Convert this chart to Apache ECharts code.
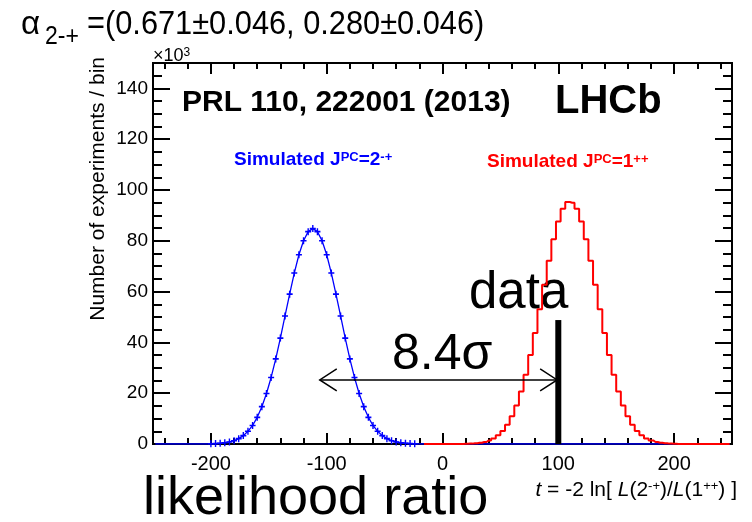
<!DOCTYPE html>
<html><head><meta charset="utf-8">
<script src="https://cdn.jsdelivr.net/npm/echarts@6/dist/echarts.min.js"></script>
<style>html,body{margin:0;padding:0;background:#fff}#c{width:752px;height:522px}</style>
</head><body><div id="c"></div>
<script>
// ---- data ----
const binWidth = 4;
const histMin = -250;
const histMax = 250;
// Simulated J^PC = 2^-+ (blue points), bin centres from blueStart in steps of binWidth
const blueStart = -200;
const blueCounts = [0.08,0.15,0.3,0.5,0.8,1.3,2.1,3.3,5.0,7.3,10.5,14.7,19.9,26.2,33.5,41.7,50.4,59.0,67.3,74.5,80.0,83.6,84.8,83.6,80.0,74.5,67.3,59.0,50.4,41.7,33.5,26.2,19.9,14.7,10.5,7.3,5.0,3.3,2.1,1.3,0.8,0.5,0.3,0.15,0.08];
// Simulated J^PC = 1^++ (red histogram)
const redStart = 20;
const redCounts = [0.08,0.15,0.3,0.5,0.8,1.4,2.2,3.4,5.1,7.6,10.9,15.2,20.7,27.3,35.0,43.7,53.1,62.7,72.1,80.6,87.6,92.6,95.3,95.0,92.6,87.6,80.6,72.1,62.7,53.1,43.7,35.0,27.3,20.7,15.2,10.9,7.6,5.1,3.4,2.2,1.4,0.8,0.5,0.3,0.15,0.08];
const redDrawFrom = -16;
// observed data
const dataValue = 100;
const dataBarHeight = 48.8;
// separation arrow
const arrowFrom = -106;
const arrowTo = 99;
const arrowLevel = 25.2;
// axes
const xMajorTicks = [-200,-100,0,100,200];
const xMinorStep = 20;
const yMin = 0, yMax = 150;
const yMajorTicks = [0,20,40,60,80,100,120,140];
const yMinorStep = 5;

// ---- build ----
const FONT = "'Liberation Sans', Arial, Helvetica, sans-serif";
function range(a,b,s){const r=[];for(let v=a;v<=b+1e-9;v+=s)r.push(Math.round(v*1000)/1000);return r;}
const xMinorTicks = range(-240,240,xMinorStep);
const yMinorTicks = range(yMin,yMax,yMinorStep);

const plusPath = 'path://M0,2.3L6,2.3L6,3.7L0,3.7Z M2.3,0L3.7,0L3.7,6L2.3,6Z';
const blueData = [];
for (let x = histMin + binWidth/2; x < histMax; x += binWidth) {
  const i = Math.round((x - blueStart)/binWidth);
  const v = (i >= 0 && i < blueCounts.length) ? blueCounts[i] : 0;
  const item = {value:[x, v]};
  if (v === 0) item.symbol = 'none';
  blueData.push(item);
}
const redData = [];
for (let x = redDrawFrom; x < histMax; x += binWidth) {
  const i = Math.round((x - redStart)/binWidth);
  const v = (i >= 0 && i < redCounts.length) ? redCounts[i] : 0;
  redData.push([x, v]);
}

function xAx(pos, ticks, len, labels){
  return {type:'value', min:histMin, max:histMax, position:pos,
    axisLine:{show:true, onZero:false, lineStyle:{color:'#000', width:2}},
    axisTick:{show:true, inside:true, length:len, customValues:ticks, lineStyle:{color:'#000', width:2}},
    axisLabel: labels ? {show:true, customValues:labels, fontSize:20, color:'#000', fontFamily:FONT, margin:10} : {show:false},
    splitLine:{show:false}};
}
function yAx(pos, ticks, len, labels){
  return {type:'value', min:yMin, max:yMax, position:pos,
    axisLine:{show:true, onZero:false, lineStyle:{color:'#000', width:2}},
    axisTick:{show:true, inside:true, length:len, customValues:ticks, lineStyle:{color:'#000', width:2}},
    axisLabel: labels ? {show:true, customValues:labels, fontSize:19, color:'#000', fontFamily:FONT, margin:5} : {show:false},
    splitLine:{show:false}};
}
function rt(size, col, extra){ return Object.assign({fontSize:size, fontFamily:FONT, fill:col, color:col}, extra||{}); }

const chart = echarts.init(document.getElementById('c'), null, {renderer:'canvas'});
chart.setOption({
  animation:false,
  backgroundColor:'#fff',
  grid:{left:153, right:20, top:63, bottom:78, containLabel:false},
  xAxis:[
    xAx('bottom', xMajorTicks, 11, xMajorTicks),
    xAx('bottom', xMinorTicks, 6, null),
    xAx('top', xMajorTicks, 11, null),
    xAx('top', xMinorTicks, 6, null)
  ],
  yAxis:[
    yAx('left', yMajorTicks, 17, yMajorTicks),
    yAx('left', yMinorTicks, 9, null),
    yAx('right', yMajorTicks, 17, null),
    yAx('right', yMinorTicks, 9, null)
  ],
  series:[
    {type:'line', name:'2-+', xAxisIndex:0, yAxisIndex:0, data:blueData,
     symbol:plusPath, symbolSize:[6,7], showSymbol:true,
     lineStyle:{color:'#0000ff', width:1.3}, itemStyle:{color:'#0000ff'}, z:3},
    {type:'line', name:'1++', xAxisIndex:0, yAxisIndex:0, data:redData, step:'middle',
     showSymbol:false, lineStyle:{color:'#ff0000', width:2}, z:4},
    {type:'line', name:'data', xAxisIndex:0, yAxisIndex:0, data:[[dataValue,0],[dataValue,dataBarHeight]],
     showSymbol:false, lineStyle:{color:'#000', width:6, cap:'butt'}, z:5},
    {type:'custom', xAxisIndex:0, yAxisIndex:0, clip:false, z:6,
     data:[[arrowFrom, arrowTo, arrowLevel]],
     renderItem:function(params, api){
       const p1 = api.coord([api.value(0), api.value(2)]);
       const p2 = api.coord([api.value(1), api.value(2)]);
       const hl = 17, hw = 11;
       const st = {stroke:'#000', lineWidth:1.5, fill:null};
       return {type:'group', children:[
         {type:'line', shape:{x1:p1[0],y1:p1[1],x2:p2[0],y2:p2[1]}, style:st},
         {type:'polyline', shape:{points:[[p1[0]+hl,p1[1]-hw],[p1[0],p1[1]],[p1[0]+hl,p1[1]+hw]]}, style:st},
         {type:'polyline', shape:{points:[[p2[0]-hl,p2[1]-hw],[p2[0],p2[1]],[p2[0]-hl,p2[1]+hw]]}, style:st}
       ]};
     }}
  ],
  graphic:[
    {type:'text', x:21, y:25, style:{text:'α', font:'33px '+FONT, fill:'#000', textAlign:'left', textVerticalAlign:'middle'}},
    {type:'text', x:45, y:37, scaleX:0.92, style:{text:'2-+', font:'25px '+FONT, fill:'#000', textAlign:'left', textVerticalAlign:'middle'}},
    {type:'text', x:87, y:25, scaleX:0.905, style:{text:'=(0.671±0.046, 0.280±0.046)', font:'34px '+FONT, fill:'#000', textAlign:'left', textVerticalAlign:'middle'}},
    {type:'text', x:153, y:56, style:{text:'{n|×10}{s|3}', textAlign:'left', textVerticalAlign:'middle',
      rich:{n:rt(18,'#000'), s:rt(12,'#000',{verticalAlign:'top'})}}},
    {type:'text', x:98, y:57, rotation:Math.PI/2, style:{text:'Number of experiments / bin', font:'21px '+FONT, fill:'#000', textAlign:'right', textVerticalAlign:'middle'}},
    {type:'text', x:182, y:103, style:{text:'PRL 110, 222001 (2013)', font:'bold 30px '+FONT, fill:'#000', textAlign:'left', textVerticalAlign:'middle'}},
    {type:'text', x:555, y:102, style:{text:'LHCb', font:'bold 40px '+FONT, fill:'#000', textAlign:'left', textVerticalAlign:'middle'}},
    {type:'text', x:234, y:160, style:{text:'{n|Simulated J}{s|PC}{n|=2}{s|-+}', textAlign:'left', textVerticalAlign:'middle',
      rich:{n:rt(19,'#0000ff',{fontWeight:'bold'}), s:rt(13,'#0000ff',{fontWeight:'bold', verticalAlign:'top'})}}},
    {type:'text', x:487, y:162, style:{text:'{n|Simulated J}{s|PC}{n|=1}{s|++}', textAlign:'left', textVerticalAlign:'middle',
      rich:{n:rt(19,'#ff0000',{fontWeight:'bold'}), s:rt(13,'#ff0000',{fontWeight:'bold', verticalAlign:'top'})}}},
    {type:'text', x:392, y:355, style:{text:'8.4σ', font:'50px '+FONT, fill:'#000', textAlign:'left', textVerticalAlign:'middle'}},
    {type:'text', x:469, y:294, style:{text:'data', font:'51px '+FONT, fill:'#000', textAlign:'left', textVerticalAlign:'middle'}},
    {type:'text', x:143, y:499, style:{text:'likelihood ratio', font:'54px '+FONT, fill:'#000', textAlign:'left', textVerticalAlign:'middle'}},
    {type:'text', x:737, y:490, style:{text:'{i|t}{n| = -2 ln[ }{i|L}{n|(2}{s|-+}{n|)/}{i|L}{n|(1}{s|++}{n|) ]}', textAlign:'right', textVerticalAlign:'middle',
      rich:{n:rt(21,'#000'), i:rt(21,'#000',{fontStyle:'italic'}), s:rt(13,'#000',{verticalAlign:'top'})}}}
  ]
});
</script></body></html>
